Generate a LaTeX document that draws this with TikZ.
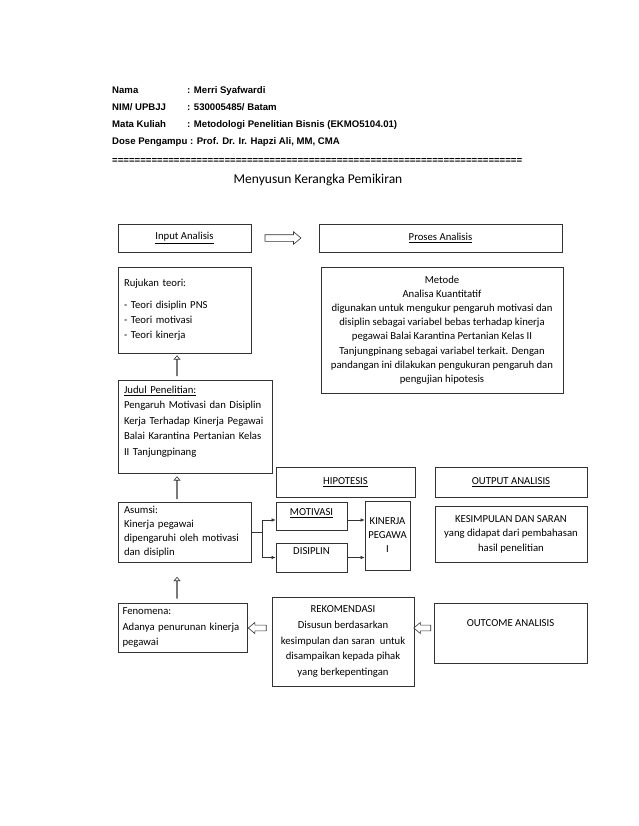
\documentclass[tikz,border=0pt]{standalone}
\usepackage{fontspec}
\setmainfont{Carlito}
\newfontfamily\hdrfont{Liberation Sans}
\usetikzlibrary{shapes.arrows,arrows.meta}
\tikzset{
  box/.style={draw=black!80, line width=0.7pt, inner sep=0pt, align=center,
    font=\fontsize{10.7}{15}\selectfont},
  hdr/.style={inner sep=0pt, anchor=base west, font=\hdrfont\bfseries\fontsize{9.6}{11}\selectfont},
  harrow/.style={single arrow, draw=black!80, line width=0.6pt, fill=white,
    inner sep=0pt, inner ysep=2.6pt, single arrow head extend=2.6pt,
    single arrow tip angle=80, minimum width=0pt},
  conn/.style={draw=black!80, line width=0.6pt, -{Latex[length=4pt,width=3.5pt]}},
  plain/.style={draw=black!80, line width=0.6pt}
}
\newcommand\kbox[7][]{\node[box,#1,minimum width={(#5-#3)*1pt},
  minimum height={(#6-#4)*1pt}] (#2) at ({(#3+#5)/2},{(#4+#6)/2}) {#7};}
\newcommand\xdepth[1]{\rule[-#1pt]{0pt}{#1pt}}
\begin{document}
\begin{tikzpicture}[x=1pt,y=-1pt]
\fill[white] (0,0) rectangle (638,826);
\useasboundingbox (0,0) rectangle (638,826);
% header
\node[hdr] (h1) at (112,94) {Nama};
\node[hdr] (h1v) at (187,94) {: Merri Syafwardi};
\node[hdr] (h2) at (112,110.5) {NIM/ UPBJJ};
\node[hdr] (h2v) at (187,110.5) {: 530005485/ Batam};
\node[hdr] (h3) at (112,127.5) {Mata Kuliah};
\node[hdr] (h3v) at (187,127.5) {: Metodologi Penelitian Bisnis (EKMO5104.01)};
\node[hdr] (h4) at (112,144.5) {Dose Pengampu : Prof. Dr. Ir. Hapzi Ali, MM, CMA};
\node[hdr] (eq) at (112,164) {\hbox to 410pt{\xleaders\hbox{=}\hfill}};
\node[inner sep=0pt, anchor=base, font=\fontsize{13.5}{16}\selectfont] (title) at (318,183.5) {Menyusun Kerangka Pemikiran};
% boxes
\kbox{input}{118}{224}{251}{252}{\underline{Input Analisis}}
\kbox{proses}{319}{224}{562}{252}{\underline{Proses Analisis}}
\kbox[align=left, text width=121pt]{rujukan}{118}{267}{251}{353}{Rujukan teori:\\[7pt]- Teori disiplin PNS\\- Teori motivasi\\- Teori kinerja}
\kbox[font=\fontsize{10.7}{14.2}\selectfont]{metode}{321}{267}{563}{393}{Metode\\Analisa Kuantitatif\\digunakan untuk mengukur pengaruh motivasi dan\\disiplin sebagai variabel bebas terhadap kinerja\\pegawai Balai Karantina Pertanian Kelas II\\Tanjungpinang sebagai variabel terkait. Dengan\\pandangan ini dilakukan pengukuran pengaruh dan\\pengujian hipotesis}
\kbox[align=left, text width=142pt, font=\fontsize{10.7}{15.5}\selectfont]{judul}{118}{380}{272}{473}{\underline{Judul Penelitian:}\\Pengaruh Motivasi dan Disiplin\\Kerja Terhadap Kinerja Pegawai\\Balai Karantina Pertanian Kelas\\II Tanjungpinang\xdepth{12}}
\kbox{hipotesis}{276}{467}{415}{497}{\underline{HIPOTESIS}}
\kbox{output}{435}{467}{587}{497}{\underline{OUTPUT ANALISIS}}
\kbox[align=left, text width=121pt, font=\fontsize{10.7}{14}\selectfont]{asumsi}{118}{502}{251}{562}{Asumsi:\\Kinerja pegawai\\dipengaruhi oleh motivasi\\dan disiplin}
\kbox{motivasi}{276}{502}{347}{530}{\underline{MOTIVASI}\xdepth{8}}
\kbox{disiplin}{276}{543}{347}{572}{DISIPLIN\xdepth{12}}
\kbox[font=\fontsize{10.7}{14}\selectfont]{kinerja}{365}{501}{410}{570}{KINERJA\\PEGAWA\\I}
\kbox[font=\fontsize{10.7}{14.5}\selectfont]{kesimpulan}{435}{506}{587}{562}{KESIMPULAN DAN SARAN\\yang didapat dari pembahasan\\hasil penelitian}
\kbox[align=left, text width=120pt, font=\fontsize{10.7}{15.5}\selectfont]{fenomena}{118}{603}{247}{652}{Fenomena:\\Adanya penurunan kinerja\\pegawai}
\kbox[font=\fontsize{10.7}{15.8}\selectfont]{rekomendasi}{272}{597}{414}{686}{REKOMENDASI\\Disusun berdasarkan\\kesimpulan dan saran~ untuk\\disampaikan kepada pihak\\yang berkepentingan}
\kbox{outcome}{434}{603}{587}{663}{OUTCOME ANALISIS\xdepth{19}}
% hollow arrows
\node[harrow, minimum height=36pt, inner ysep=3pt, single arrow head extend=3pt] (a1) at (281,238) {};
\node[harrow, minimum height=20pt, shape border rotate=90] (a2) at (177,366) {};
\node[harrow, minimum height=22pt, shape border rotate=90] (a3) at (177,488) {};
\node[harrow, minimum height=21pt, shape border rotate=90] (a4) at (177,588) {};
\node[harrow, minimum height=18pt, shape border rotate=180] (a5) at (259,628) {};
\node[harrow, minimum height=17pt, shape border rotate=180] (a6) at (424,628) {};
% connectors
\coordinate (jn) at (262,532);
\draw[plain] (asumsi.east) -- (jn);
\draw[conn] (jn) |- ([yshift=-4pt]motivasi.west);
\draw[conn] (jn) |- (disiplin.west);
\draw[conn] ([yshift=-4pt]motivasi.east) -- ([yshift=-4pt]motivasi.east -| kinerja.west);
\draw[conn] (disiplin.east) -- (disiplin.east -| kinerja.west);
\end{tikzpicture}
\end{document}
